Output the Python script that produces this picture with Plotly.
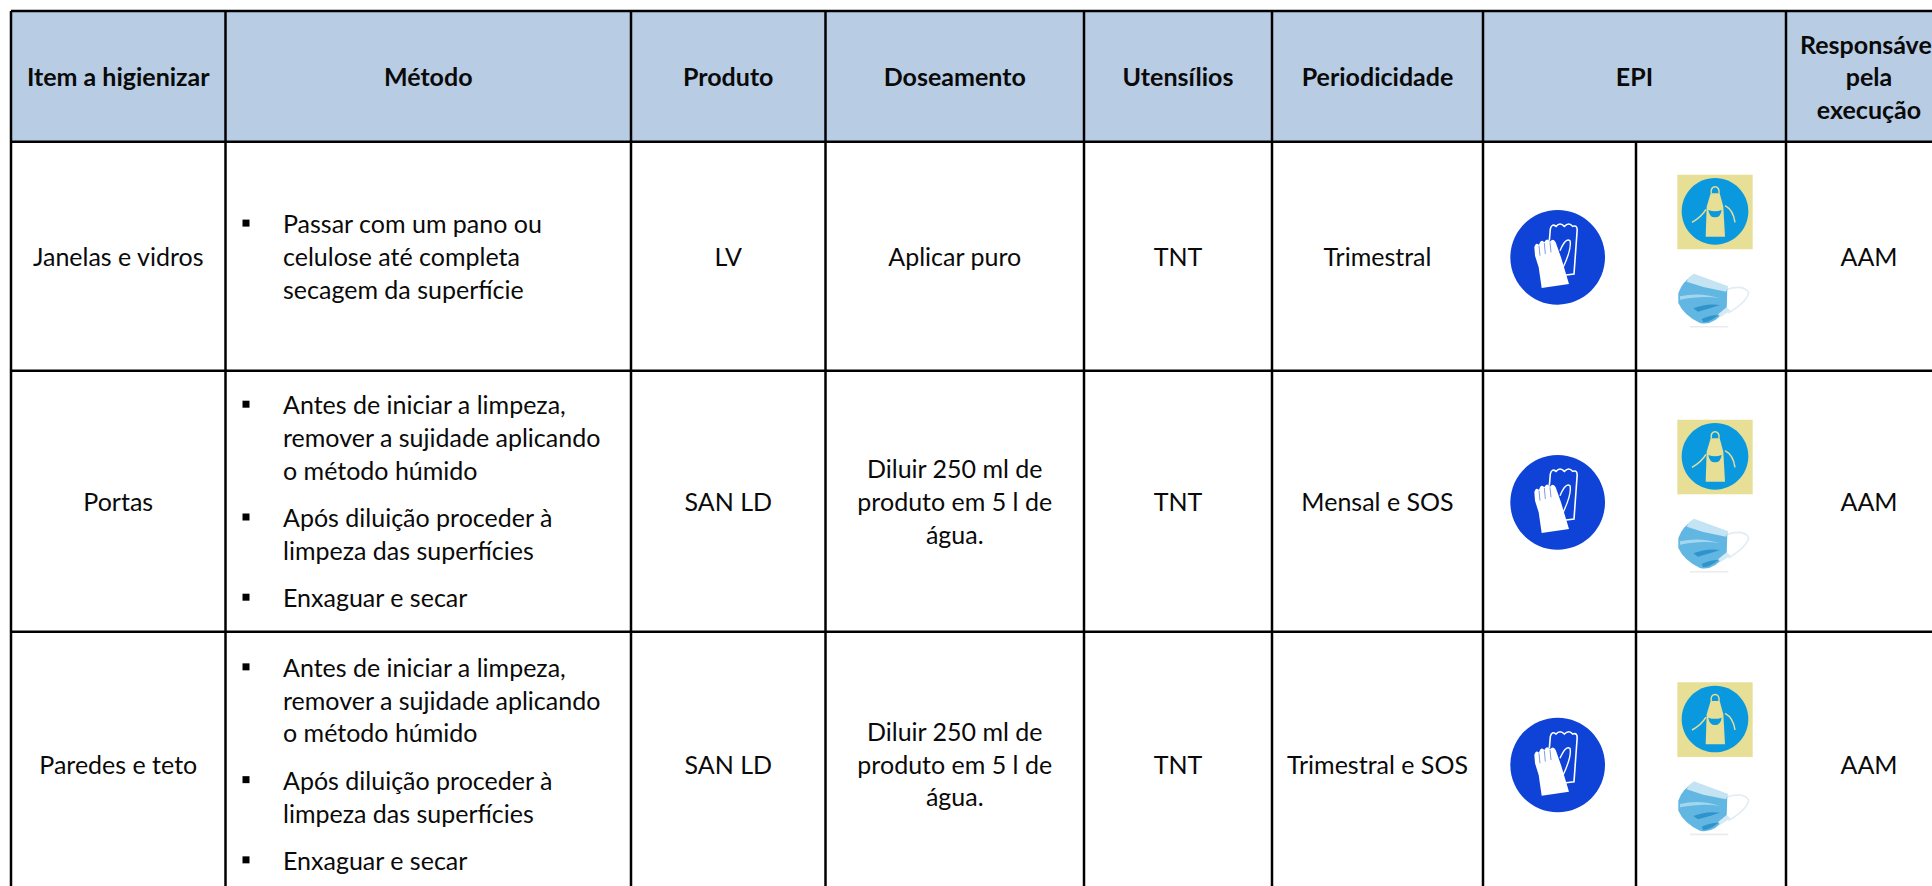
import plotly.graph_objects as go

# ---- table content ----
headers = ["Item a higienizar", "Método", "Produto", "Doseamento", "Utensílios", "Periodicidade", "EPI"]
responsible_header = ["Responsável", "pela", "execução"]
items = ["Janelas e vidros", "Portas", "Paredes e teto"]
products = ["LV", "SAN LD", "SAN LD"]
dosing = [["Aplicar puro"],
          ["Diluir 250 ml de", "produto em 5 l de", "água."],
          ["Diluir 250 ml de", "produto em 5 l de", "água."]]
utensils = ["TNT", "TNT", "TNT"]
periodicity = ["Trimestral", "Mensal e SOS", "Trimestral e SOS"]
responsible = ["AAM", "AAM", "AAM"]
method_short = [["Passar com um pano ou", "celulose até completa", "secagem da superfície"]]
method_long = [["Antes de iniciar a limpeza,", "remover a sujidade aplicando", "o método húmido"],
               ["Após diluição proceder à", "limpeza das superfícies"],
               ["Enxaguar e secar"]]
methods = [method_short, method_long, method_long]

# ---- geometry of the table (page pixels) ----
W, H = 1932, 886
COLS = [11, 225.5, 631, 825.5, 1084, 1272, 1483, 1786, 1952]
EPI_SPLIT = 1636
TOP, HEAD_BOTTOM = 11, 141.7
ROWS = [141.7, 370.7, 631.7, 896]
LINE_H = 32.6
PARA_GAP = 15
BULLET_X, METHOD_X = 246, 283
FONT = "Lato"
SIZE = 25
INK = "#0A0A0A"

col_c = [(a + b) / 2 for a, b in zip(COLS, COLS[1:])]
row_c = [(a + b) / 2 for a, b in zip(ROWS, ROWS[1:])]
head_c = (TOP + HEAD_BOTTOM) / 2 + 3.5
BODY_SHIFT = 3.5


def text_trace(xs, ys, texts, pos="middle center", bold=False):
    return go.Scatter(x=xs, y=ys, text=texts, mode="text", textposition=pos, hoverinfo="skip",
                      cliponaxis=False, showlegend=False,
                      textfont=dict(family=FONT, size=SIZE, color=INK, weight=700 if bold else 400))


fig = go.Figure()

# headers
fig.add_trace(text_trace(col_c[:7], [head_c] * 7, headers, bold=True))
fig.add_trace(text_trace([col_c[7]] * 3,
                         [head_c + (i - 1) * 32.6 for i in range(3)],
                         responsible_header, bold=True))

# single-line body columns
for col, values in [(0, items), (2, products), (4, utensils), (5, periodicity), (7, responsible)]:
    fig.add_trace(text_trace([col_c[col]] * 3, [c + BODY_SHIFT for c in row_c], values))

# dosing
dx, dy, dt = [], [], []
for c, lines in zip(row_c, dosing):
    for i, t in enumerate(lines):
        dx.append(col_c[3])
        dy.append(c + BODY_SHIFT + (i - (len(lines) - 1) / 2) * LINE_H)
        dt.append(t)
fig.add_trace(text_trace(dx, dy, dt))

# methods with square bullets
mx, my, mt, bx, by = [], [], [], [], []
for c, paragraphs in zip(row_c, methods):
    n = sum(len(p) for p in paragraphs)
    total = (n - 1) * LINE_H + (len(paragraphs) - 1) * PARA_GAP
    y = c + BODY_SHIFT - total / 2
    for p in paragraphs:
        bx.append(BULLET_X)
        by.append(y - 4)
        for t in p:
            mx.append(METHOD_X)
            my.append(y)
            mt.append(t)
            y += LINE_H
        y += PARA_GAP
fig.add_trace(text_trace(mx, my, mt, pos="middle right"))
fig.add_trace(go.Scatter(x=bx, y=by, mode="markers", hoverinfo="skip", showlegend=False, cliponaxis=False,
                         marker=dict(symbol="square", size=7, color="#000000")))

shapes = [dict(type="rect", x0=COLS[0], x1=W + 20, y0=TOP, y1=HEAD_BOTTOM,
               fillcolor="#B8CCE4", line_width=0, layer="below")]
GRID = dict(color="#000000", width=2.5)
for x in COLS[:-1]:
    shapes.append(dict(type="line", x0=x, x1=x, y0=TOP, y1=H + 5, line=GRID))
shapes.append(dict(type="line", x0=EPI_SPLIT, x1=EPI_SPLIT, y0=HEAD_BOTTOM, y1=H + 5, line=GRID))
for y in [TOP, HEAD_BOTTOM] + ROWS[1:3]:
    shapes.append(dict(type="line", x0=COLS[0], x1=W + 20, y0=y, y1=y, line=GRID))


# ---- pictograms, outlined in a local grid that is 3 units to the pixel ----
def local(path, ox, oy):
    out, is_x = [], True
    for tok in path.split():
        if tok.isalpha():
            out.append(tok)
            is_x = True
        else:
            v = float(tok) / 3 + (ox if is_x else oy)
            out.append(f"{v:.2f}")
            is_x = not is_x
    return " ".join(out)


def add_path(path, ox, oy, fill=None, line=None, width=0):
    shapes.append(dict(type="path", path=local(path, ox, oy), layer="above",
                       fillcolor=fill or "rgba(0,0,0,0)",
                       line=dict(color=line or "rgba(0,0,0,0)", width=width)))


def circle(cx, cy, r):
    return (f"M {cx - r} {cy} C {cx - r} {cy - .552 * r} {cx - .552 * r} {cy - r} {cx} {cy - r} "
            f"C {cx + .552 * r} {cy - r} {cx + r} {cy - .552 * r} {cx + r} {cy} "
            f"C {cx + r} {cy + .552 * r} {cx + .552 * r} {cy + r} {cx} {cy + r} "
            f"C {cx - .552 * r} {cy + r} {cx - r} {cy + .552 * r} {cx - r} {cy} Z")


def gloves(rc):
    o = (1505, rc - 51)
    add_path(circle(158, 155, 142), *o, fill="#0F42D6")
    add_path("M 133 105 L 136 70 Q 140 52 153 62 Q 165 48 178 62 Q 192 48 203 62 Q 219 56 216 80 L 207 205 L 183 208",
             *o, line="#FFFFFF", width=1.6)
    add_path("M 165 135 Q 182 95 195 105 Q 201 130 172 190", *o, line="#FFFFFF", width=1.4)
    add_path("M 88 125 Q 92 108 102 118 Q 108 98 118 110 Q 125 94 135 108 Q 145 96 152 110 L 168 155 L 192 235 L 110 247 "
             "L 101 185 L 90 150 Z", *o, fill="#FFFFFF")
    for s in ["M 102 120 L 105 150", "M 118 112 L 121 145", "M 135 110 L 138 140"]:
        add_path(s, *o, line="#7F9BE8", width=1)


def apron(rc):
    o = (1670, rc - 86)
    add_path("M 22 12 L 248 12 L 248 236 L 22 236 Z", *o, fill="#E6DF95")
    add_path(circle(135, 122, 100), *o, fill="#0A99DE")
    add_path("M 124 68 C 118 42 152 42 147 68", *o, line="#E6DF95", width=1.5)
    add_path("M 122 68 L 149 68 L 160 108 L 165 198 L 107 198 L 110 108 Z", *o, fill="#E6DF95")
    add_path("M 66 155 Q 95 138 108 116", *o, line="#E6DF95", width=1.5)
    add_path("M 165 105 Q 190 118 195 155", *o, line="#E6DF95", width=1.5)
    add_path("M 115 118 Q 135 125 155 118 Q 152 140 135 140 Q 118 140 115 118 Z", *o, fill="#0A99DE")


def mask(rc):
    o = (1670, rc + 9)
    add_path("M 60 183 L 175 183", *o, line="#EBEBEB", width=1.6)
    add_path("M 168 72 Q 220 55 236 80 Q 232 108 175 142", *o, line="#E2ECF3", width=1.6)
    add_path("M 25 82 Q 38 45 70 30 L 172 68 L 170 130 Q 130 182 90 172 Q 42 150 25 112 Z", *o, fill="#62B6E2")
    add_path("M 58 34 L 72 24 L 175 62 L 168 78 L 100 64 L 50 48 Z", *o, fill="#C4E4F4")
    add_path("M 30 92 Q 90 78 150 98 Q 100 88 30 102 Z", *o, fill="#A4D6EF")
    add_path("M 70 128 Q 110 112 150 118 Q 120 128 84 138 Z", *o, fill="#2F93CC")
    add_path("M 95 160 Q 120 148 145 148 Q 122 168 100 170 Z", *o, fill="#2F93CC")
    add_path("M 170 125 L 182 135 L 150 155 L 145 145 Z", *o, fill="#D6EAF5")


for c in row_c:
    rc = c + 0.5
    gloves(rc)
    apron(rc)
    mask(rc)

fig.update_layout(
    width=W, height=H, margin=dict(l=0, r=0, t=0, b=0), autosize=False,
    paper_bgcolor="#FFFFFF", plot_bgcolor="#FFFFFF", shapes=shapes, showlegend=False,
    xaxis=dict(range=[0, W], visible=False, fixedrange=True),
    yaxis=dict(range=[H, 0], visible=False, fixedrange=True),
)
fig.write_html("out.html", config={"displayModeBar": False},
               post_script="document.body.style.margin='0';document.body.style.overflow='hidden';")
